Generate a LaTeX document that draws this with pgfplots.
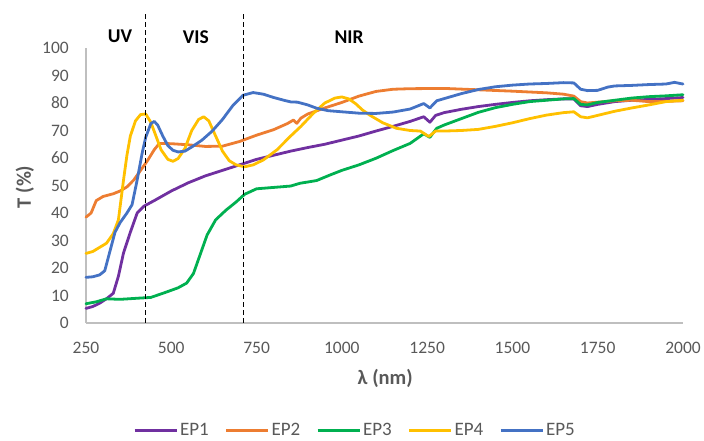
\documentclass[border=0pt]{standalone}
\usepackage{pgfplots}
\pgfplotsset{compat=1.18}
\usepackage{fontspec}
\setmainfont{Carlito}

\definecolor{cEPone}{HTML}{7030A0}
\definecolor{cEPtwo}{HTML}{ED7D31}
\definecolor{cEPthree}{HTML}{00B050}
\definecolor{cEPfour}{HTML}{FFC000}
\definecolor{cEPfive}{HTML}{4472C4}
\definecolor{txtgray}{HTML}{595959}
\definecolor{axgray}{HTML}{BFBFBF}

\begin{document}
\begin{tikzpicture}
\useasboundingbox (0,0) rectangle (704pt,441pt);
\begin{axis}[
  at={(86pt,118pt)}, anchor=south west,
  scale only axis, width=597pt, height=275pt,
  xmin=250, xmax=2000, ymin=0, ymax=100,
  xtick={250,500,...,2000}, ytick={0,10,...,100},
  axis x line=bottom, axis y line=left,
  axis line style={-, axgray, line width=1.2pt},
  major tick length=0pt,
  tick label style={font=\fontsize{17.5}{20}\selectfont, text=txtgray},
  /pgf/number format/assume math mode=true,
  /pgf/number format/1000 sep={},
  yticklabel style={anchor=east, inner sep=0pt, xshift=-17pt},
  xticklabel style={anchor=north, inner sep=0pt, yshift=-19pt},
  clip=false,
  every axis plot/.append style={line width=2.8pt, line join=round, line cap=round},
  legend image code/.code={\draw[#1, line cap=butt] (0pt,0pt) -- (42pt,0pt);},
  legend style={at={(axis description cs:0.4506,-0.39)}, anchor=center,
    draw=none, fill=none, font=\fontsize{19}{20}\selectfont, text=txtgray,
    legend columns=5,
    nodes={inner xsep=2pt, inner ysep=0pt},
    /tikz/every even column/.append style={column sep=14pt}},
  legend cell align=left,
]

% EP1
\addplot[cEPone] coordinates {
(250,5.3)(270,6.0)(290,7.2)(310,8.8)(330,10.8)(345,17)(360,25.5)(380,33)
(400,40)(420,42.5)(450,44.5)(500,48)(550,51)(600,53.5)(650,55.5)(700,57.5)
(750,59.5)(800,61)(850,62.5)(900,63.8)(950,65)(1000,66.5)(1050,68)(1100,69.8)
(1150,71.5)(1200,73.3)(1240,75.0)(1258,73.0)(1275,75.5)(1300,76.5)(1350,77.7)
(1400,78.7)(1450,79.5)(1500,80.2)(1550,80.8)(1600,81.2)(1650,81.5)(1680,81.5)
(1700,79)(1720,78.7)(1750,79.5)(1800,80.5)(1850,81)(1900,81.3)(1950,81.6)(2000,82)
};
\addlegendentry{EP1}

% EP2
\addplot[cEPtwo] coordinates {
(250,38.5)(265,40)(280,44.5)(300,46)(330,47)(350,48)(370,49.5)(390,52)
(410,55.5)(430,59)(450,63)(465,65.3)(500,65.2)(550,64.8)(600,64.2)(650,64.3)
(700,66)(750,68.3)(800,70.3)(840,72.5)(858,73.8)(868,72.6)(880,74.5)(900,76)
(950,78.2)(1000,80.2)(1050,82.5)(1100,84.2)(1150,85)(1200,85.2)(1300,85.3)
(1400,84.8)(1500,84.3)(1600,83.7)(1650,83.2)(1680,82.5)(1700,80.5)(1720,80)
(1750,80.3)(1800,80.8)(1850,81)(1900,80.5)(1950,80.6)(2000,80.8)
};
\addlegendentry{EP2}

% EP3
\addplot[cEPthree] coordinates {
(250,7)(280,7.7)(310,8.8)(350,8.6)(400,9.0)(440,9.3)(480,11)(520,12.8)
(545,14.5)(565,18)(585,25)(605,32)(630,37.5)(660,41)(690,44)(715,46.8)
(750,48.8)(800,49.3)(850,49.8)(877,50.8)(926,51.8)(965,53.8)(1000,55.5)
(1050,57.5)(1100,59.9)(1150,62.7)(1200,65.3)(1240,68.8)(1258,67.5)(1278,70.8)
(1300,72)(1350,74.3)(1400,76.6)(1450,78.3)(1500,79.5)(1550,80.5)(1600,81)
(1650,81.5)(1680,81.6)(1700,79.5)(1720,79.3)(1750,80.2)(1800,81)(1850,81.8)
(1900,82.3)(1950,82.6)(2000,83)
};
\addlegendentry{EP3}

% EP4
\addplot[cEPfour] coordinates {
(250,25.3)(270,26)(290,27.5)(310,29)(330,32.5)(345,37.5)(360,52)(370,61)
(380,68)(395,73.5)(410,75.8)(425,76)(440,73)(455,68)(470,63)(490,59.5)
(505,58.8)(520,59.8)(540,63.5)(560,70)(580,74)(595,75)(610,73.5)(630,68)
(650,62.5)(670,59)(690,57.5)(715,56.8)(740,57.5)(770,59.3)(810,63)(850,68)
(880,71.5)(916,76.2)(950,80)(980,81.8)(1000,82.2)(1020,81.5)(1040,79.8)
(1060,77.5)(1083,75.5)(1120,72.8)(1160,70.8)(1200,70)(1230,69.8)(1255,67.8)
(1275,69.8)(1300,69.8)(1350,70)(1400,70.4)(1450,71.5)(1500,72.8)(1550,74.3)
(1600,75.6)(1650,76.5)(1680,76.8)(1700,75)(1720,74.6)(1750,75.5)(1800,77)
(1850,78.2)(1900,79.3)(1950,80.5)(2000,81)
};
\addlegendentry{EP4}

% EP5
\addplot[cEPfive] coordinates {
(250,16.6)(270,16.8)(290,17.5)(305,19)(320,26)(335,33)(350,36.5)(370,40)
(385,43)(400,52)(415,62)(425,67.5)(440,72.5)(450,73.3)(460,72)(475,68)
(490,64.5)(505,62.8)(520,62.2)(540,62.5)(560,64)(590,66.5)(620,69.8)(650,74)
(680,79)(710,82.8)(740,83.8)(770,83.2)(800,82)(830,81)(850,80.4)(870,80.3)
(900,79.3)(926,78.1)(960,77.2)(1000,76.8)(1050,76.3)(1100,76.2)(1150,76.7)
(1200,77.8)(1240,79.8)(1258,78.2)(1278,80.8)(1300,81.6)(1350,83.4)(1400,84.9)
(1450,85.9)(1500,86.5)(1550,86.9)(1600,87.1)(1650,87.4)(1680,87.3)(1700,85)
(1720,84.5)(1750,84.6)(1780,85.8)(1800,86.2)(1850,86.4)(1900,86.7)(1950,86.9)
(1975,87.5)(2000,86.9)
};
\addlegendentry{EP5}

% region boundaries
\addplot[forget plot, black, line width=1pt, dash pattern=on 5pt off 3pt, line cap=butt]
  coordinates {(425,0)(425,113)};
\addplot[forget plot, black, line width=1pt, dash pattern=on 5pt off 3pt, line cap=butt]
  coordinates {(712,0)(712,113)};

% region names
\node[font=\fontsize{19.5}{20}\selectfont\bfseries] at (axis cs:350,104.1) {UV};
\node[font=\fontsize{19.5}{20}\selectfont\bfseries] at (axis cs:572,104.1) {VIS};
\node[font=\fontsize{19.5}{20}\selectfont\bfseries] at (axis cs:1021,104.1) {NIR};

% axis titles
\node[font=\fontsize{20.5}{22}\selectfont\bfseries, text=txtgray]
  at (axis cs:1127,-20) {λ (nm)};
\node[font=\fontsize{20.5}{22}\selectfont\bfseries, text=txtgray, rotate=90]
  at (axis cs:71,49.5) {T (\%)};
\end{axis}
\end{tikzpicture}
\end{document}
